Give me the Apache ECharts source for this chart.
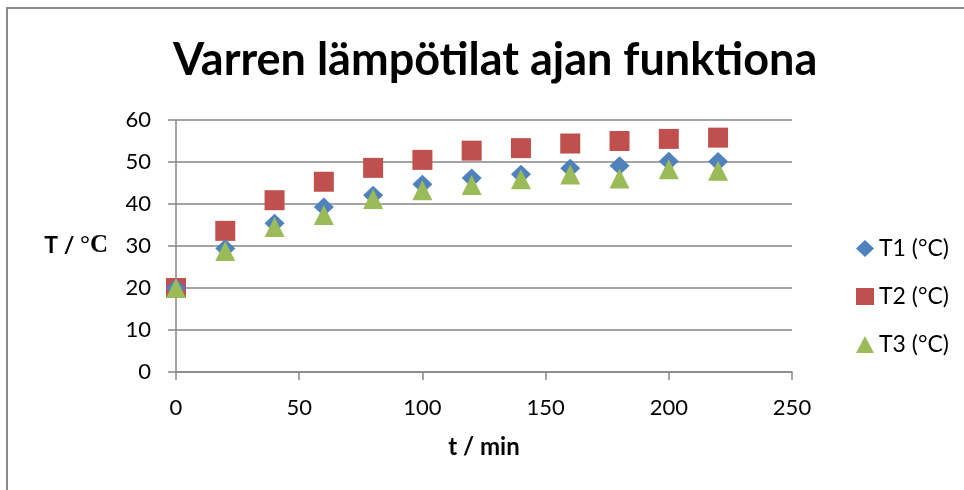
<!DOCTYPE html>
<html>
<head>
<meta charset="utf-8">
<script src="https://cdn.jsdelivr.net/npm/echarts@6/dist/echarts.min.js"></script>
<style>
html,body{margin:0;padding:0;background:#fff;}
#main{width:964px;height:490px;}
</style>
</head>
<body>
<div id="main"></div>
<script>
const times = [0, 20, 40, 60, 80, 100, 120, 140, 160, 180, 200, 220];
const t1 = [20.0, 29.4, 35.4, 39.3, 42.1, 44.7, 46.2, 47.1, 48.5, 49.1, 50.2, 50.1];
const t2 = [20.0, 33.6, 40.9, 45.3, 48.6, 50.5, 52.7, 53.3, 54.4, 55.0, 55.5, 55.8];
const t3 = [20.0, 28.8, 34.5, 37.4, 41.2, 43.3, 44.5, 45.9, 47.0, 46.1, 48.3, 47.9];
const seriesNames = ['T1 (°C)', 'T2 (°C)', 'T3 (°C)'];
const titleText = 'Varren lämpötilat ajan funktiona';
const xName = 't / min';

const pairs = arr => times.map((t, i) => [t, arr[i]]);
const font = 'Lato, "Open Sans", sans-serif';

const chart = echarts.init(document.getElementById('main'));
chart.setOption({
  animation: false,
  backgroundColor: '#fff',
  title: {
    text: titleText,
    left: 168,
    top: 33,
    textStyle: { fontFamily: font, fontSize: 45, fontWeight: 'bold', color: '#000' }
  },
  grid: { left: 176, right: 172, top: 120, bottom: 118, containLabel: false },
  xAxis: {
    type: 'value', min: 0, max: 250, interval: 50,
    name: xName, nameLocation: 'middle', nameGap: 63,
    nameTextStyle: { fontFamily: font, fontSize: 24, fontWeight: 'bold', color: '#000' },
    axisLine: { show: true, onZero: false, lineStyle: { color: '#868686', width: 1.5 } },
    axisTick: { show: true, length: 8, lineStyle: { color: '#868686', width: 1.5 } },
    axisLabel: { margin: 25, fontFamily: font, fontSize: 22, color: '#000' },
    splitLine: { show: false }
  },
  yAxis: {
    type: 'value', min: 0, max: 60, interval: 10,
    name: '{a|T / }{b|°C}', nameLocation: 'middle', nameRotate: 0, nameGap: 68,
    nameTextStyle: {
      rich: {
        a: { fontFamily: font, fontSize: 23, fontWeight: 'bold', color: '#000' },
        b: { fontFamily: '"Liberation Serif", "DejaVu Serif", serif', fontSize: 25, fontWeight: 'bold', color: '#000' }
      }
    },
    axisLine: { show: true, lineStyle: { color: '#868686', width: 1.5 } },
    axisTick: { show: true, length: 8, lineStyle: { color: '#868686', width: 1.5 } },
    axisLabel: { margin: 25, fontFamily: font, fontSize: 22, color: '#000' },
    splitLine: { show: true, lineStyle: { color: '#868686', width: 1.5 } }
  },
  legend: {
    orient: 'vertical', left: 851, top: 232,
    itemWidth: 18, itemHeight: 17, itemGap: 25,
    textStyle: { fontFamily: font, fontSize: 23, color: '#000' },
    data: [
      { name: seriesNames[0], icon: 'diamond' },
      { name: seriesNames[1], icon: 'rect' },
      { name: seriesNames[2], icon: 'triangle' }
    ]
  },
  series: [
    { name: seriesNames[0], type: 'scatter', symbol: 'diamond', symbolSize: [20, 19], data: pairs(t1), itemStyle: { color: '#4F81BD', opacity: 1 }, z: 3 },
    { name: seriesNames[1], type: 'scatter', symbol: 'rect', symbolSize: [20, 20], data: pairs(t2), itemStyle: { color: '#C0504D', opacity: 1 }, z: 2 },
    { name: seriesNames[2], type: 'scatter', symbol: 'triangle', symbolSize: [20, 20], data: pairs(t3), itemStyle: { color: '#9BBB59', opacity: 1 }, z: 4 }
  ],
  graphic: [
    { type: 'line', shape: { x1: 7, y1: 8, x2: 7, y2: 490 }, style: { stroke: '#8a8a8a', lineWidth: 2 } },
    { type: 'line', shape: { x1: 6, y1: 8, x2: 964, y2: 8 }, style: { stroke: '#8a8a8a', lineWidth: 2 } }
  ]
});
</script>
</body>
</html>
